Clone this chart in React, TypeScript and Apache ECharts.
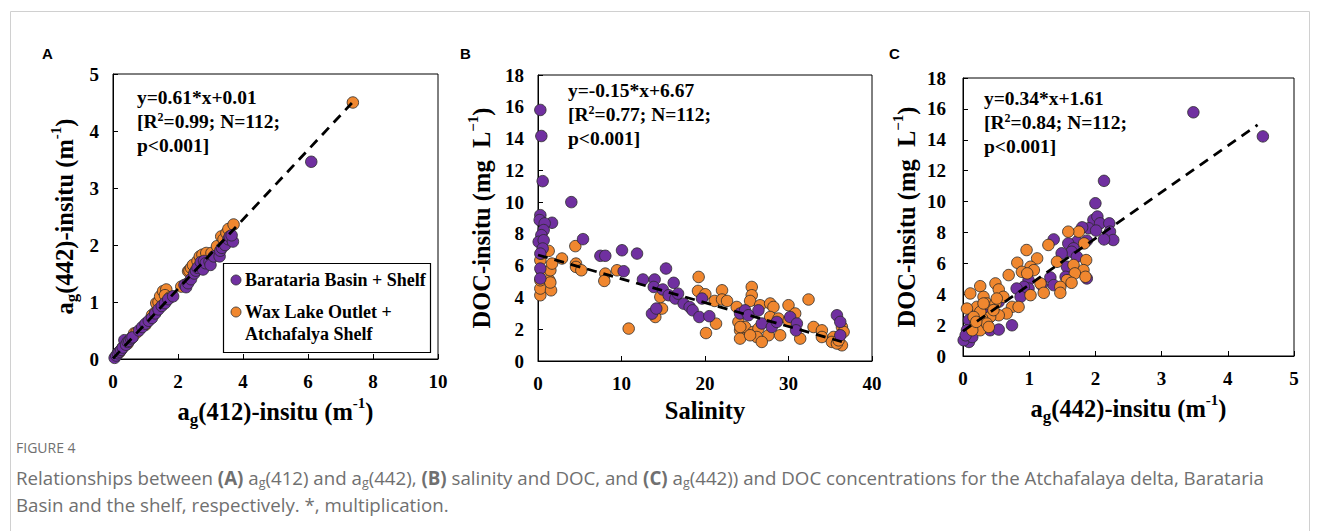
import React, { useEffect, useRef } from "react";
import * as echarts from "echarts";

// ---------- DATA ----------
// Panel A: ag(412) vs ag(442)
const aBarataria: [number, number][] = [
  [0.05, 0.02], [0.1, 0.06], [0.15, 0.1], [0.2, 0.13], [0.25, 0.16], [0.3, 0.2], [0.35, 0.33], [0.4, 0.25],
  [0.45, 0.3], [0.5, 0.32], [0.55, 0.36], [0.6, 0.38], [0.8, 0.5], [0.9, 0.56], [1.0, 0.62], [1.1, 0.67],
  [1.2, 0.72], [1.3, 0.8], [1.4, 0.87], [1.5, 0.93], [1.6, 0.98], [1.7, 1.05], [1.85, 1.1], [2.2, 1.3],
  [2.25, 1.26], [2.31, 1.33], [2.4, 1.4], [2.5, 1.5], [2.55, 1.55], [2.6, 1.6], [2.7, 1.7], [2.77, 1.57],
  [2.8, 1.72], [2.85, 1.68], [2.97, 1.71], [3.0, 1.65], [3.1, 1.8], [3.28, 1.8], [3.3, 1.9], [3.35, 1.95],
  [3.45, 2.0], [3.55, 2.1], [3.59, 2.15], [3.69, 2.06], [3.65, 2.17], [6.1, 3.46],
];
const aWaxLake: [number, number][] = [
  [0.2, 0.12], [0.3, 0.2], [0.45, 0.27], [0.6, 0.38], [0.65, 0.45], [0.72, 0.46], [1.0, 0.6], [1.2, 0.77],
  [1.3, 0.82], [1.33, 0.98], [1.4, 1.0], [1.45, 1.1], [1.54, 1.19], [1.64, 1.22], [1.6, 1.12], [1.75, 1.08],
  [2.1, 1.27], [2.31, 1.54], [2.35, 1.55], [2.4, 1.6], [2.46, 1.65], [2.6, 1.72], [2.67, 1.8], [2.75, 1.83],
  [2.87, 1.86], [3.03, 1.86], [3.2, 1.98], [3.33, 2.15], [3.4, 2.1], [3.49, 2.21], [3.55, 2.28], [3.71, 2.36],
  [7.38, 4.5],
];
const aFit: [number, number][] = [[0, 0.01], [7.35, 4.49]];

// Panel B: salinity vs DOC
const bBarataria: [number, number][] = [
  [0.28, 15.8], [0.4, 14.16], [0.56, 11.32], [3.99, 10.0], [0.28, 9.18], [0.2, 8.87], [1.68, 8.7], [0.8, 8.66],
  [0.68, 8.24], [0.4, 7.92], [0.08, 7.5], [0.68, 7.6], [5.39, 7.67], [0.56, 7.08], [0.28, 6.76], [7.47, 6.62],
  [8.06, 6.62], [10.06, 6.97], [11.86, 6.76], [0.28, 5.82], [10.26, 5.65], [15.33, 5.82], [0.28, 5.19],
  [12.57, 5.13], [13.97, 5.13], [16.25, 4.92], [13.86, 4.66], [14.94, 4.5], [15.65, 4.14], [16.45, 3.93],
  [16.77, 4.24], [17.44, 3.61], [18.16, 3.4], [18.52, 3.19], [19.64, 3.93], [19.32, 2.77], [20.52, 2.82],
  [13.65, 2.98], [14.17, 3.3], [24.2, 2.99], [24.8, 3.19], [25.2, 2.88], [26.4, 3.19], [26.8, 2.36],
  [28.0, 2.14], [28.6, 2.46], [30.2, 2.77], [31.0, 2.36], [30.9, 1.93], [35.8, 2.88], [36.2, 2.46], [36.2, 1.62],
];
const bWaxLake: [number, number][] = [
  [0.28, 4.14], [0.28, 4.56], [0.28, 5.08], [0.4, 5.71], [0.28, 6.34], [0.4, 6.76], [1.28, 6.93], [1.36, 5.08],
  [1.48, 5.71], [1.68, 6.13], [1.56, 4.45], [1.48, 4.94], [2.87, 6.45], [4.47, 7.23], [4.55, 6.13], [4.55, 5.92],
  [5.19, 5.71], [8.06, 5.5], [7.94, 5.04], [9.46, 5.71], [10.86, 2.04], [14.05, 2.77], [14.85, 3.3], [14.65, 4.03],
  [19.24, 5.29], [19.16, 4.41], [20.04, 4.2], [20.12, 1.76], [21.16, 3.78], [21.32, 2.35], [22.04, 4.45],
  [22.04, 3.87], [22.64, 3.78], [25.6, 4.66], [25.6, 4.14], [25.4, 3.78], [23.8, 3.4], [24.0, 2.46], [24.2, 1.93],
  [24.2, 1.41], [24.8, 2.14], [25.8, 1.83], [26.4, 2.04], [26.6, 3.51], [27.8, 3.62], [28.2, 3.4], [27.8, 2.77],
  [27.6, 1.62], [29.0, 1.62], [28.8, 2.67], [30.0, 3.51], [30.8, 2.99], [31.4, 1.41], [32.4, 3.87], [33.0, 2.14],
  [34.0, 1.93], [34.0, 1.51], [35.4, 1.51], [35.2, 1.2], [36.4, 0.99], [36.4, 2.14], [36.6, 1.83], [35.8, 1.1],
  [36.0, 1.3], [26.2, 1.51], [25.4, 1.62], [26.8, 1.2], [24.23, 2.14], [30.02, 2.56],
];
const bFit: [number, number][] = [[0, 6.67], [36.6, 1.18]];

// Panel C: ag(442) vs DOC
const cBarataria: [number, number][] = [
  [3.48, 15.78], [4.53, 14.22], [2.13, 11.34], [2.0, 9.89], [1.97, 8.81], [2.03, 9.03], [2.07, 8.59], [2.21, 8.59],
  [2.22, 8.05], [2.27, 7.51], [2.13, 7.55], [1.9, 8.27], [1.8, 8.33], [1.87, 7.47], [2.01, 8.12], [1.37, 7.55],
  [1.72, 7.4], [1.59, 7.29], [1.67, 6.97], [1.64, 6.75], [1.49, 6.65], [1.72, 6.43], [1.57, 5.78], [1.55, 5.13],
  [1.87, 5.02], [1.32, 5.09], [1.37, 4.59], [0.99, 4.91], [0.99, 4.37], [0.92, 4.48], [0.81, 4.37], [0.87, 3.83],
  [0.74, 1.99], [0.54, 3.51], [0.41, 1.67], [0.54, 1.71], [0.26, 1.88], [0.09, 2.32], [0.06, 1.45], [0.09, 0.91],
  [0.01, 1.02], [0.06, 1.67], [0.14, 1.23], [0.04, 1.34], [0.21, 2.86], [0.36, 3.18], [1.19, 4.59],
];
const cWaxLake: [number, number][] = [
  [1.75, 8.05], [1.59, 8.05], [1.29, 7.19], [1.83, 7.29], [0.96, 6.86], [1.12, 6.32], [1.42, 6.1], [0.82, 6.04],
  [1.02, 5.78], [0.89, 5.45], [1.07, 5.56], [0.97, 5.35], [0.69, 5.24], [1.67, 5.89], [1.86, 6.21], [1.82, 5.56],
  [1.69, 5.35], [1.85, 5.13], [1.57, 4.91], [1.64, 4.74], [1.17, 4.7], [1.22, 4.09], [1.02, 3.94], [1.47, 4.48],
  [1.47, 4.09], [0.49, 4.7], [0.26, 4.52], [0.11, 4.05], [0.54, 4.31], [0.61, 3.83], [0.31, 3.83], [0.36, 3.4],
  [0.49, 3.4], [0.21, 3.18], [0.06, 3.07], [0.74, 3.18], [0.84, 3.18], [0.66, 2.75], [0.54, 2.64], [0.41, 2.53],
  [0.29, 2.42], [0.19, 2.1], [0.26, 1.67], [0.14, 1.67], [0.36, 2.1], [0.46, 2.97], [0.26, 2.86], [0.16, 2.53],
  [0.39, 1.88], [0.31, 3.4], [0.51, 3.72], [0.2, 2.21],
];
const cFit: [number, number][] = [[0, 1.61], [4.45, 14.96]];

const seriesNames = ["Barataria Basin + Shelf", "Wax Lake Outlet + Atchafalya Shelf"];

// ---------- STYLE ----------
const PURPLE = "#7030A0";
const ORANGE = "#F0872F";
const SERIF = "'Liberation Serif', 'Times New Roman', serif";
const SANS = "'Liberation Sans', Arial, sans-serif";
const CAP = "'Open Sans', 'Noto Sans', sans-serif";
const CAPCOL = "#707070";

const grids = [
  { left: 113, top: 74, width: 325, height: 285 },
  { left: 538, top: 75, width: 334, height: 286 },
  { left: 963, top: 78, width: 331, height: 278 },
];

const titleRich = {
  m: { fontFamily: SERIF, fontWeight: "bold", fontSize: 24.5, color: "#000", lineHeight: 32 },
  s: { fontFamily: SERIF, fontWeight: "bold", fontSize: 17, color: "#000", lineHeight: 17, verticalAlign: "bottom" },
  p: { fontFamily: SERIF, fontWeight: "bold", fontSize: 15, color: "#000", lineHeight: 15, verticalAlign: "top" },
};

function xAxis(gridIndex: number, max: number, interval: number, name: string, gap: number) {
  return {
    type: "value", gridIndex, min: 0, max, interval,
    name, nameLocation: "middle", nameGap: gap,
    nameTextStyle: { rich: titleRich },
    axisLine: { show: true, lineStyle: { color: "#000", width: 1 } },
    axisTick: { show: true, inside: true, length: 5, lineStyle: { color: "#000" } },
    axisLabel: { fontFamily: SERIF, fontWeight: "bold", fontSize: 19, color: "#000", margin: 13 },
    splitLine: { show: false },
  };
}
function yAxis(gridIndex: number, max: number, interval: number, name: string, gap: number, margin: number) {
  return {
    type: "value", gridIndex, min: 0, max, interval,
    name, nameLocation: "middle", nameGap: gap, nameRotate: 90,
    nameTextStyle: { rich: titleRich },
    axisLine: { show: true, lineStyle: { color: "#000", width: 1 } },
    axisTick: { show: true, inside: true, length: 5, lineStyle: { color: "#000" } },
    axisLabel: { fontFamily: SERIF, fontWeight: "bold", fontSize: 19, color: "#000", margin },
    splitLine: { show: false },
  };
}

function scatter(name: string, data: [number, number][], idx: number, color: string, z: number) {
  return {
    type: "scatter", name, data, xAxisIndex: idx, yAxisIndex: idx,
    symbol: "circle", symbolSize: 11.5, z,
    itemStyle: { color, borderColor: "#2a2a2a", borderWidth: 0.8, opacity: 1 },
  };
}
function fit(data: [number, number][], idx: number) {
  return {
    type: "line", data, xAxisIndex: idx, yAxisIndex: idx, symbol: "none", z: 10,
    lineStyle: { color: "#000", width: 2.8, type: [10, 7] },
  };
}

const eqRich = {
  e: { fontFamily: SERIF, fontWeight: "bold", fontSize: 19.5, color: "#000", fill: "#000", lineHeight: 24 },
  q: { fontFamily: SERIF, fontWeight: "bold", fontSize: 12, color: "#000", fill: "#000", lineHeight: 24, padding: [0, 0, 9, 0] },
};
function eq(x: number, y: number, lines: string[]) {
  return {
    type: "text", left: x, top: y, z: 20,
    style: { text: lines.join("\n"), rich: eqRich },
  };
}

const legendFont = { fontFamily: SERIF, fontWeight: "bold", fontSize: 18, fill: "#000" };

export default function App() {
  const ref = useRef<HTMLDivElement>(null);
  useEffect(() => {
    if (!ref.current) return;
    const chart = echarts.init(ref.current, null, { renderer: "svg" });
    const option = {
      animation: false,
      backgroundColor: "#fff",
      grid: grids.map((g) => ({ ...g, show: true, borderColor: "#000", borderWidth: 1, backgroundColor: "transparent" })),
      xAxis: [
        xAxis(0, 10, 2, "{m|a}{s|g}{m|(412)-insitu (m}{p|-1}{m|)}", 29),
        xAxis(1, 40, 10, "{m|Salinity}", 30),
        xAxis(2, 5, 1, "{m|a}{s|g}{m|(442)-insitu (m}{p|-1}{m|)}", 33),
      ],
      yAxis: [
        yAxis(0, 5, 1, "{m|a}{s|g}{m|(442)-insitu (m}{p|-1}{m|)}", 33, 14),
        yAxis(1, 18, 2, "{m|DOC-insitu (mg  L}{p|−1}{m|)}", 41, 14),
        yAxis(2, 18, 2, "{m|DOC-insitu (mg  L}{p|−1}{m|)}", 41, 17),
      ],
      series: [
        scatter(seriesNames[1], aWaxLake, 0, ORANGE, 2),
        scatter(seriesNames[0], aBarataria, 0, PURPLE, 3),
        fit(aFit, 0),
        scatter(seriesNames[1], bWaxLake, 1, ORANGE, 2),
        scatter(seriesNames[0], bBarataria, 1, PURPLE, 3),
        fit(bFit, 1),
        scatter(seriesNames[0], cBarataria, 2, PURPLE, 2),
        scatter(seriesNames[1], cWaxLake, 2, ORANGE, 3),
        fit(cFit, 2),
      ],
      graphic: [
        { type: "rect", shape: { x: 10.5, y: 11.5, width: 1299, height: 540 }, style: { fill: "none", stroke: "#d0d0d0", lineWidth: 1 }, z: 0 },
        { type: "text", left: 42, top: 46, style: { text: "A", font: `bold 15px ${SANS}`, fill: "#000" } },
        { type: "text", left: 460, top: 46, style: { text: "B", font: `bold 15px ${SANS}`, fill: "#000" } },
        { type: "text", left: 889, top: 46, style: { text: "C", font: `bold 15px ${SANS}`, fill: "#000" } },
        eq(137, 87, ["{e|y=0.61*x+0.01}", "{e|[R}{q|2}{e|=0.99; N=112;}", "{e|p<0.001]}"]),
        eq(568, 80, ["{e|y=-0.15*x+6.67}", "{e|[R}{q|2}{e|=0.77; N=112;}", "{e|p<0.001]}"]),
        eq(984, 88, ["{e|y=0.34*x+1.61}", "{e|[R}{q|2}{e|=0.84; N=112;}", "{e|p<0.001]}"]),
        // legend (panel A)
        { type: "rect", z: 20, shape: { x: 223.5, y: 263.5, width: 207, height: 89 }, style: { fill: "#fff", stroke: "#000", lineWidth: 1.2 } },
        { type: "circle", z: 21, shape: { cx: 236, cy: 280, r: 5 }, style: { fill: PURPLE, stroke: "#2a2a2a", lineWidth: 0.8 } },
        { type: "text", z: 21, x: 245, y: 280, style: { text: "Barataria Basin + Shelf", ...legendFont, verticalAlign: "middle" } },
        { type: "circle", z: 21, shape: { cx: 236, cy: 312, r: 5 }, style: { fill: ORANGE, stroke: "#2a2a2a", lineWidth: 0.8 } },
        { type: "text", z: 21, x: 245, y: 312, style: { text: "Wax Lake Outlet +", ...legendFont, verticalAlign: "middle" } },
        { type: "text", z: 21, x: 245, y: 334, style: { text: "Atchafalya Shelf", ...legendFont, verticalAlign: "middle" } },
        // caption
        { type: "text", x: 16, y: 447, style: { text: "FIGURE 4", font: `14px ${CAP}`, fill: CAPCOL, verticalAlign: "middle" } },
        {
          type: "text", x: 16, y: 477,
          style: {
            verticalAlign: "middle",
            text: "{t|Relationships between }{b|(A)}{t| a}{s|g}{t|(412) and a}{s|g}{t|(442), }{b|(B)}{t| salinity and DOC, and }{b|(C)}{t| a}{s|g}{t|(442)) and DOC concentrations for the Atchafalaya delta, Barataria}",
            rich: {
              t: { fontFamily: CAP, fontSize: 18.7, color: CAPCOL, fill: CAPCOL, lineHeight: 24 },
              b: { fontFamily: CAP, fontSize: 18.7, fontWeight: "bold", color: CAPCOL, fill: CAPCOL, lineHeight: 24 },
              s: { fontFamily: CAP, fontSize: 12.5, color: CAPCOL, fill: CAPCOL, lineHeight: 12, verticalAlign: "bottom" },
            },
          },
        },
        { type: "text", x: 16, y: 504, style: { text: "Basin and the shelf, respectively. *, multiplication.", font: `18.7px ${CAP}`, fill: CAPCOL, verticalAlign: "middle" } },
      ],
    };
    chart.setOption(option as any);
    return () => chart.dispose();
  }, []);
  return <div ref={ref} style={{ position: "fixed", left: 0, top: 0, width: 1320, height: 531, background: "#fff" }} />;
}
